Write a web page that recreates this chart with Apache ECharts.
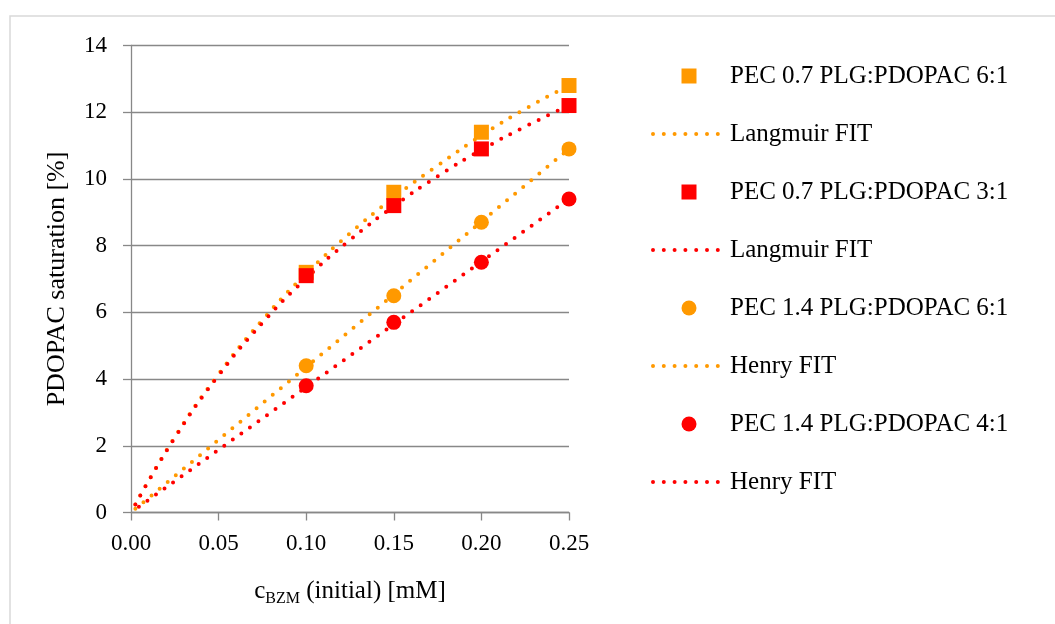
<!DOCTYPE html>
<html>
<head>
<meta charset="utf-8">
<script src="https://cdn.jsdelivr.net/npm/echarts@6/dist/echarts.min.js"></script>
<style>
  html, body { margin: 0; padding: 0; background: #fff; }
  #chart { width: 1055px; height: 624px; }
</style>
</head>
<body>
<div id="chart"></div>
<script>
// measured points
var cMeas = [0.10, 0.15, 0.20, 0.25];
var pec07_61 = [7.2, 9.6, 11.4, 12.8];
var pec07_31 = [7.1, 9.2, 10.9, 12.2];
var pec14_61 = [4.4, 6.5, 8.7, 10.9];
var pec14_41 = [3.8, 5.7, 7.5, 9.4];

// fit curves
var langX = [0.0025, 0.025, 0.05, 0.075, 0.10, 0.125, 0.15, 0.175, 0.20, 0.225, 0.25];
var langOrange = [0.24, 2.26, 4.15, 5.77, 7.16, 8.37, 9.44, 10.4, 11.3, 12.1, 12.8];
var langRed = [0.24, 2.24, 4.11, 5.68, 7.02, 8.17, 9.18, 10.08, 10.87, 11.57, 12.2];
var henryOrangeX = [0.0025, 0.05, 0.10, 0.15, 0.20, 0.25];
var henryOrange = [0.11, 2.18, 4.36, 6.54, 8.72, 10.9];
var henryRedX = [0.0045, 0.05, 0.10, 0.15, 0.20, 0.25];
var henryRed = [0.17, 1.88, 3.76, 5.64, 7.52, 9.4];

var ORANGE = '#ff9900';
var RED = '#ff0000';
var FONT = '"Liberation Serif", "DejaVu Serif", serif';
var DOTS = [0, 10.5];
var SQUARE = 'path://M0,0L10,0L10,10L0,10Z';

function pairs(xs, ys) {
	var out = [];
	for (var i = 0; i < xs.length; i++) out.push([xs[i], ys[i]]);
	return out;
}

function fitLine(name, color, xs, ys, smooth) {
	return {
		name: name,
		type: 'line',
		data: pairs(xs, ys),
		symbol: 'none',
		smooth: smooth,
		z: 2,
		lineStyle: { color: color, width: 4, type: DOTS, cap: 'round' },
		itemStyle: { color: color }
	};
}

function markers(name, color, symbol, ys) {
	return {
		name: name,
		type: 'scatter',
		data: pairs(cMeas, ys),
		symbol: symbol,
		symbolSize: 15,
		z: 3,
		itemStyle: { color: color, opacity: 1 }
	};
}

// legend entries: markers get a square / round icon, fits only the dotted line
function legMarker(name, icon) {
	return { name: name, icon: icon, itemStyle: { opacity: 1 } };
}
function legLine(name, color) {
	return {
		name: name,
		itemStyle: { opacity: 0 },
		lineStyle: { color: color, width: 4, type: [0, 10.8], cap: 'round' }
	};
}

var chart = echarts.init(document.getElementById('chart'));
var option = {
	backgroundColor: '#fff',
	animation: false,
	graphic: [{
		type: 'rect',
		shape: { x: 10, y: 16, width: 1100, height: 700 },
		style: { fill: 'none', stroke: '#d9d9d9', lineWidth: 1.5 },
		silent: true
	}],
	grid: { left: 131, top: 45.5, width: 438, height: 467 },
	legend: {
		orient: 'vertical',
		left: 646,
		top: 58,
		itemWidth: 72,
		itemHeight: 15,
		itemGap: 32,
		symbolKeepAspect: true,
		textStyle: { fontFamily: FONT, fontSize: 25, color: '#000', lineHeight: 26 },
		formatter: function (name) { return name.split('#')[0]; },
		data: [
			legMarker('PEC 0.7 PLG:PDOPAC 6:1', SQUARE),
			legLine('Langmuir FIT#1', ORANGE),
			legMarker('PEC 0.7 PLG:PDOPAC 3:1', SQUARE),
			legLine('Langmuir FIT#2', RED),
			legMarker('PEC 1.4 PLG:PDOPAC 6:1', 'circle'),
			legLine('Henry FIT#1', ORANGE),
			legMarker('PEC 1.4 PLG:PDOPAC 4:1', 'circle'),
			legLine('Henry FIT#2', RED)
		]
	},
	xAxis: {
		type: 'value',
		min: 0,
		max: 0.25,
		interval: 0.05,
		name: '{m|c}{s|BZM}{m| (initial) [mM]}',
		nameLocation: 'middle',
		nameGap: 64,
		nameTextStyle: {
			fontFamily: FONT,
			color: '#000',
			rich: {
				m: { fontFamily: FONT, fontSize: 25, color: '#000' },
				s: { fontFamily: FONT, fontSize: 16, color: '#000', padding: [14, 0, 0, 0] }
			}
		},
		axisLine: { show: true, lineStyle: { color: '#888', width: 1.3 } },
		axisTick: { show: true, length: 8, lineStyle: { color: '#888', width: 1.3 } },
		axisLabel: {
			margin: 20,
			fontFamily: FONT,
			fontSize: 23,
			color: '#000',
			formatter: function (v) { return v.toFixed(2); }
		},
		splitLine: { show: false }
	},
	yAxis: {
		type: 'value',
		min: 0,
		max: 14,
		interval: 2,
		name: 'PDOPAC saturation [%]',
		nameLocation: 'middle',
		nameGap: 61,
		nameTextStyle: { fontFamily: FONT, fontSize: 26, color: '#000' },
		axisLine: { show: true, lineStyle: { color: '#888', width: 1.3 } },
		axisTick: { show: true, length: 8, lineStyle: { color: '#888', width: 1.3 } },
		axisLabel: { margin: 24, fontFamily: FONT, fontSize: 23, color: '#000' },
		splitLine: { show: true, lineStyle: { color: '#888', width: 1.3 } }
	},
	series: [
		fitLine('Langmuir FIT#1', ORANGE, langX, langOrange, true),
		fitLine('Langmuir FIT#2', RED, langX, langRed, true),
		fitLine('Henry FIT#1', ORANGE, henryOrangeX, henryOrange, false),
		fitLine('Henry FIT#2', RED, henryRedX, henryRed, false),
		markers('PEC 0.7 PLG:PDOPAC 6:1', ORANGE, 'rect', pec07_61),
		markers('PEC 0.7 PLG:PDOPAC 3:1', RED, 'rect', pec07_31),
		markers('PEC 1.4 PLG:PDOPAC 6:1', ORANGE, 'circle', pec14_61),
		markers('PEC 1.4 PLG:PDOPAC 4:1', RED, 'circle', pec14_41)
	]
};
chart.setOption(option);
</script>
</body>
</html>
